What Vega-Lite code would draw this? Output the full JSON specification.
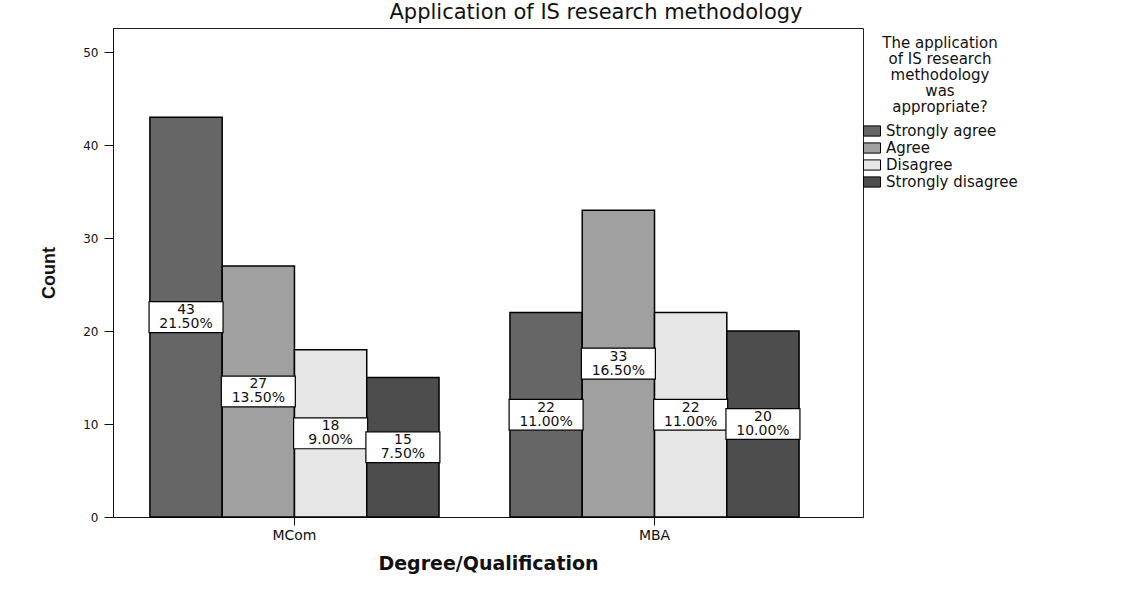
{
  "$schema": "https://vega.github.io/schema/vega-lite/v6.json",
  "autosize": "none",
  "width": 750,
  "height": 489,
  "padding": {"left": 113, "top": 28, "right": 268, "bottom": 72},
  "background": "white",
  "config": {
    "font": "DejaVu Sans",
    "view": {"stroke": "#222", "strokeWidth": 1}
  },
  "title": {
    "text": "Application of IS research methodology",
    "anchor": "middle",
    "dx": 108,
    "offset": 5,
    "font": "DejaVu Sans",
    "fontSize": 21,
    "fontWeight": "normal",
    "color": "#111"
  },
  "data": {
    "values": [
      {"degree": "MCom", "response": "Strongly agree", "count": 43, "pct": "21.50%"},
      {"degree": "MCom", "response": "Agree", "count": 27, "pct": "13.50%"},
      {"degree": "MCom", "response": "Disagree", "count": 18, "pct": "9.00%"},
      {"degree": "MCom", "response": "Strongly disagree", "count": 15, "pct": "7.50%"},
      {"degree": "MBA", "response": "Strongly agree", "count": 22, "pct": "11.00%"},
      {"degree": "MBA", "response": "Agree", "count": 33, "pct": "16.50%"},
      {"degree": "MBA", "response": "Disagree", "count": 22, "pct": "11.00%"},
      {"degree": "MBA", "response": "Strongly disagree", "count": 20, "pct": "10.00%"}
    ]
  },
  "encoding": {
    "x": {
      "field": "degree",
      "type": "nominal",
      "sort": ["MCom", "MBA"],
      "scale": {"paddingInner": 0.197, "paddingOuter": 0.14, "align": 0.366},
      "axis": {
        "title": "Degree/Qualification",
        "titleFont": "DejaVu Sans",
        "titleFontSize": 19,
        "titleFontWeight": "bold",
        "titleColor": "#111",
        "titlePadding": 12,
        "labelAngle": 0,
        "labelFont": "DejaVu Sans",
        "labelFontSize": 14,
        "labelColor": "#111",
        "labelPadding": 3,
        "tickSize": 8,
        "tickColor": "#111",
        "domainColor": "#111"
      }
    },
    "xOffset": {
      "field": "response",
      "type": "nominal",
      "sort": ["Strongly agree", "Agree", "Disagree", "Strongly disagree"],
      "scale": {"paddingInner": 0, "paddingOuter": 0}
    }
  },
  "layer": [
    {
      "mark": {"type": "bar", "stroke": "#000", "strokeWidth": 1.5},
      "encoding": {
        "y": {
          "field": "count",
          "type": "quantitative",
          "scale": {"domain": [0, 52.6], "nice": false},
          "axis": {
            "title": "Count",
            "titleFont": "Liberation Sans",
            "titleFontSize": 18,
            "titleFontWeight": "bold",
            "titleColor": "#111",
            "titlePadding": 24,
            "values": [0, 10, 20, 30, 40, 50],
            "grid": false,
            "labelFont": "DejaVu Sans",
            "labelFontSize": 12,
            "labelColor": "#111",
            "labelPadding": 6,
            "tickSize": 9,
            "tickColor": "#111",
            "domainColor": "#111"
          }
        },
        "color": {
          "field": "response",
          "type": "nominal",
          "sort": ["Strongly agree", "Agree", "Disagree", "Strongly disagree"],
          "scale": {
            "domain": ["Strongly agree", "Agree", "Disagree", "Strongly disagree"],
            "range": ["#666666", "#a0a0a0", "#e6e6e6", "#4d4d4d"]
          },
          "legend": {
            "orient": "none",
            "legendX": 750,
            "legendY": 8,
            "title": ["The application", "of IS research", "methodology", "was", "appropriate?"],
            "titleFont": "DejaVu Sans",
            "titleFontSize": 15,
            "titleFontWeight": "normal",
            "titleColor": "#111",
            "titleAlign": "center",
            "titleAnchor": "middle",
            "titleLineHeight": 16,
            "titlePadding": 7,
            "labelFont": "DejaVu Sans",
            "labelFontSize": 15,
            "labelColor": "#111",
            "symbolType": "M-1,-0.6H1V0.6H-1Z",
            "symbolSize": 289,
            "symbolFillColor": "#888",
            "symbolStrokeColor": "#000",
            "symbolStrokeWidth": 1,
            "rowPadding": 0,
            "labelOffset": 5
          }
        }
      }
    },
    {
      "encoding": {
        "y": {
          "field": "count",
          "type": "quantitative",
          "scale": {"domain": [0, 105.2], "nice": false},
          "axis": null
        }
      },
      "layer": [
        {
          "mark": {
            "type": "point",
            "shape": "M-1,-0.417H1V0.417H-1Z",
            "size": 5476,
            "filled": true,
            "fill": "white",
            "stroke": "#000",
            "strokeWidth": 1.2,
            "opacity": 1
          }
        },
        {
          "mark": {"type": "text", "dy": -7, "fontSize": 14, "color": "#111", "font": "DejaVu Sans"},
          "encoding": {"text": {"field": "count", "type": "quantitative"}}
        },
        {
          "mark": {"type": "text", "dy": 7, "fontSize": 14, "color": "#111", "font": "DejaVu Sans"},
          "encoding": {"text": {"field": "pct", "type": "nominal"}}
        }
      ]
    }
  ],
  "resolve": {"scale": {"y": "independent"}}
}
